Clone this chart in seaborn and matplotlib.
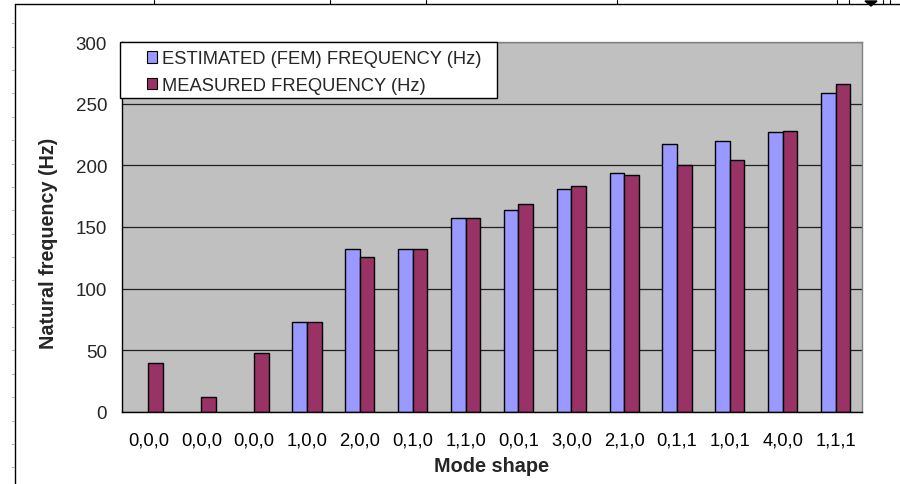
import numpy as np
import pandas as pd
import matplotlib
matplotlib.use("Agg")
import matplotlib.pyplot as plt
from matplotlib.lines import Line2D
from matplotlib.patches import Rectangle, Polygon
import seaborn as sns

# Natural frequencies per mode shape (Hz); FEM estimate missing for rigid modes
modes = ["0,0,0", "0,0,0", "0,0,0", "1,0,0", "2,0,0", "0,1,0", "1,1,0",
         "0,0,1", "3,0,0", "2,1,0", "0,1,1", "1,0,1", "4,0,0", "1,1,1"]
estimated = [None, None, None, 73, 132, 132, 157.5, 164, 181, 193.5, 217, 219.5, 227, 259]
measured = [40, 12, 48, 73, 126, 132, 157.5, 169, 183.5, 192, 200, 204.5, 228, 266]
series_names = ["ESTIMATED (FEM) FREQUENCY (Hz)", "MEASURED FREQUENCY (Hz)"]
series_colors = ["#9999FF", "#993366"]
y_ticks = [0, 50, 100, 150, 200, 250, 300]

rows = []
for i, (e, m) in enumerate(zip(estimated, measured)):
    if e is not None:
        rows.append((i, series_names[0], e))
    rows.append((i, series_names[1], m))
df = pd.DataFrame(rows, columns=["mode", "series", "freq"])

sns.set_style("white")
plt.rcParams["font.family"] = ["Liberation Sans", "DejaVu Sans"]

W_PX, H_PX = 900, 485
fig = plt.figure(figsize=(9, 4.85), dpi=100)
fig.patch.set_facecolor("white")

# plot area in pixel terms
px_l, px_r, px_t, px_b = 122, 862, 43, 413
ax = fig.add_axes([px_l / W_PX, 1 - px_b / H_PX, (px_r - px_l) / W_PX, (px_b - px_t) / H_PX])
ax.set_facecolor("#C0C0C0")

sns.barplot(data=df, x="mode", y="freq", hue="series", hue_order=series_names,
            order=list(range(len(modes))),
            palette=dict(zip(series_names, series_colors)),
            width=0.55, gap=0, edgecolor="black", linewidth=1,
            errorbar=None, saturation=1, legend=False, ax=ax)

ax.set_xlim(-0.5, len(modes) - 0.5)
ax.set_ylim(0, 300)
ax.set_yticks(y_ticks)
ax.set_yticklabels([str(v) for v in y_ticks], fontsize=13.5)
ax.set_xticks(range(len(modes)))
ax.set_xticklabels(modes, fontsize=13.2)
ax.set_xticks(np.arange(-0.5, len(modes)), minor=True)
ax.tick_params(axis="x", which="major", length=0, pad=14, colors="black")
ax.tick_params(axis="x", which="minor", length=4.3, width=1, direction="out", color="black")
ax.tick_params(axis="y", which="major", length=3.8, width=1, direction="out", pad=7, color="black")
ax.set_xlabel("")
ax.set_ylabel("")

ax.yaxis.grid(True, color="#202020", linewidth=0.9)
ax.xaxis.grid(False)
ax.set_axisbelow(True)

for side in ("left", "bottom"):
    ax.spines[side].set_color("black")
    ax.spines[side].set_linewidth(1)
for side in ("top", "right"):
    ax.spines[side].set_color("#808080")
    ax.spines[side].set_linewidth(1)
    ax.spines[side].set_visible(True)

# axis titles
fig.text(49 / W_PX, 1 - 243 / H_PX, "Natural frequency (Hz)", rotation=90,
         ha="center", va="center", fontsize=14.2, fontweight="bold")
fig.text(491 / W_PX, 1 - 472 / H_PX, "Mode shape", ha="center", va="baseline",
         fontsize=14.3, fontweight="bold")

# legend box and entries
fig.add_artist(Rectangle((119.5 / W_PX, 1 - 99 / H_PX), (496.7 - 119.5) / W_PX, (99 - 43) / H_PX,
                         transform=fig.transFigure, facecolor="white", edgecolor="black",
                         linewidth=1, zorder=3))
handles = [Rectangle((0, 0), 1, 1, facecolor=c, edgecolor="black", linewidth=0.8)
           for c in series_colors]
fig.legend(handles, series_names, loc="upper left",
           bbox_to_anchor=(146.7 / W_PX, 1 - 51.5 / H_PX), frameon=False,
           fontsize=13.2, handlelength=0.55, handleheight=0.55, handletextpad=0.3,
           labelspacing=0.5, borderpad=0, borderaxespad=0)

# page frame around the chart
def fx(x):
    return x / W_PX

def fy(y):
    return 1 - y / H_PX

fig.add_artist(Line2D([fx(15), fx(15)], [fy(485), fy(5)], transform=fig.transFigure,
                      color="black", linewidth=1))
fig.add_artist(Line2D([fx(15), fx(900)], [fy(5), fy(5)], transform=fig.transFigure,
                      color="black", linewidth=1))
for x in (154, 330, 426, 617, 837, 849, 883, 890):
    fig.add_artist(Line2D([fx(x), fx(x)], [fy(5), fy(1)], transform=fig.transFigure,
                          color="black", linewidth=0.8))
fig.add_artist(Polygon([(fx(865), fy(2)), (fx(877), fy(2)), (fx(871), fy(7))],
                       closed=True, transform=fig.transFigure, color="black"))
for k in range(20):
    y = 24.3 + 23.37 * k
    fig.add_artist(Line2D([fx(11.5), fx(14)], [fy(y), fy(y)], transform=fig.transFigure,
                          color="#B0B0B0", linewidth=0.8))

fig.savefig("out.png", dpi=100)
